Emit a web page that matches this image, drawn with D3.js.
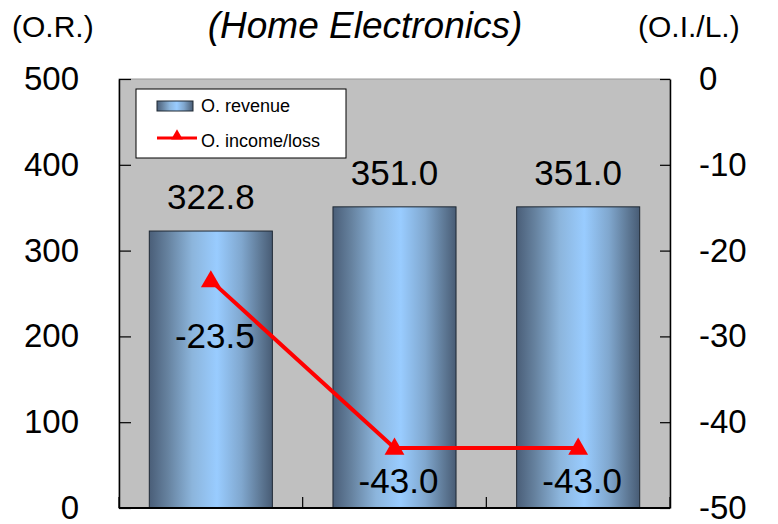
<!DOCTYPE html>
<html>
<head>
<meta charset="utf-8">
<script src="https://cdn.jsdelivr.net/npm/d3@7"></script>
<style>
  body { margin: 0; background: #fff; }
  svg text { font-family: "Liberation Sans", Arial, sans-serif; fill: #000; }
</style>
</head>
<body>
<div class="container"></div>
<script>
(function(){

var categories = ["A", "B", "C"];
var revenue = [322.8, 351.0, 351.0];
var incomeLoss = [-23.5, -43.0, -43.0];
var leftTicks = [0, 100, 200, 300, 400, 500];
var rightTicks = [-50, -40, -30, -20, -10, 0];

// label placement below the line points (px)
var lossLabelDy = [67, 45, 45];

var width = 778,
    height = 524,
    plotLeft = 119,
    plotRight = 670,
    plotTop = 79,
    plotBottom = 508;

var svg = d3.select(".container")
  .append("svg")
  .attr("width", width)
  .attr("height", height);

var defs = svg.append("defs");
var grad = defs.append("linearGradient")
  .attr("id", "cyl")
  .attr("x1", "0%").attr("x2", "100%")
  .attr("y1", "0%").attr("y2", "0%");
[["0%", "#4a5e78"], ["15%", "#66829f"], ["35%", "#8cb5dc"], ["55%", "#99ccff"],
 ["75%", "#80a7ce"], ["90%", "#5f7a97"], ["100%", "#485c75"]].forEach(function(s){
  grad.append("stop").attr("offset", s[0]).attr("stop-color", s[1]);
});

var x = d3.scaleBand()
  .domain(categories)
  .range([plotLeft, plotRight])
  .paddingInner(0.33)
  .paddingOuter(0.165);

var xBand = d3.scaleBand()
  .domain(categories)
  .range([plotLeft, plotRight]);

var yLeft = d3.scaleLinear().domain([0, 500]).range([plotBottom, plotTop]);
var yRight = d3.scaleLinear().domain([-50, 0]).range([plotBottom, plotTop]);

// plot background
svg.append("rect")
  .attr("x", plotLeft)
  .attr("y", plotTop)
  .attr("width", plotRight - plotLeft)
  .attr("height", plotBottom - plotTop)
  .attr("fill", "#c0c0c0")
  .attr("stroke", "#9a9a9a")
  .attr("stroke-width", 1);

// bars
svg.selectAll(".bar")
  .data(revenue)
  .enter()
  .append("rect")
  .attr("class", "bar")
  .attr("x", function(d, i){ return x(categories[i]); })
  .attr("y", function(d){ return yLeft(d); })
  .attr("width", x.bandwidth())
  .attr("height", function(d){ return plotBottom - yLeft(d); })
  .attr("fill", "url(#cyl)")
  .attr("stroke", "#1e2833")
  .attr("stroke-width", 1);

svg.selectAll(".barLabel")
  .data(revenue)
  .enter()
  .append("text")
  .attr("class", "barLabel")
  .attr("x", function(d, i){ return x(categories[i]) + x.bandwidth() / 2; })
  .attr("y", function(d){ return yLeft(d) - 22; })
  .attr("text-anchor", "middle")
  .style("font-size", "35px")
  .text(function(d){ return d.toFixed(1); });

// axes
var plainFormat = function(d){ return String(d); };
var leftAxis = d3.axisLeft(yLeft).tickValues(leftTicks).tickFormat(plainFormat)
  .tickSizeInner(-12).tickSizeOuter(0).tickPadding(40);
var rightAxis = d3.axisRight(yRight).tickValues(rightTicks).tickFormat(plainFormat)
  .tickSizeInner(-10).tickSizeOuter(0).tickPadding(29);

var gl = svg.append("g").attr("transform", "translate(" + plotLeft + ",0)").call(leftAxis);
var gr = svg.append("g").attr("transform", "translate(" + plotRight + ",0)").call(rightAxis);
[gl, gr].forEach(function(g){
  g.select(".domain").attr("stroke", "#000").attr("stroke-width", 1.5);
  g.selectAll(".tick line").attr("stroke", "#000").attr("stroke-width", 1.2);
  g.selectAll(".tick text")
    .style("font-size", "33px")
    .style("font-family", "'Liberation Sans', Arial, sans-serif")
    .attr("fill", "#000");
});

// bottom axis with ticks between categories
var bottomTicks = categories.map(function(c){ return xBand(c); }).concat([plotRight]);
svg.append("line")
  .attr("x1", plotLeft).attr("x2", plotRight)
  .attr("y1", plotBottom).attr("y2", plotBottom)
  .attr("stroke", "#000").attr("stroke-width", 2);
svg.selectAll(".xtick")
  .data(bottomTicks)
  .enter()
  .append("line")
  .attr("x1", function(d){ return d; }).attr("x2", function(d){ return d; })
  .attr("y1", plotBottom).attr("y2", plotBottom - 11)
  .attr("stroke", "#000").attr("stroke-width", 1.2);

// income/loss line
var line = d3.line()
  .x(function(d, i){ return x(categories[i]) + x.bandwidth() / 2; })
  .y(function(d){ return yRight(d); });

svg.append("path")
  .datum(incomeLoss)
  .attr("d", line)
  .attr("fill", "none")
  .attr("stroke", "#ff0000")
  .attr("stroke-width", 4);

svg.selectAll(".marker")
  .data(incomeLoss)
  .enter()
  .append("path")
  .attr("d", d3.symbol().type(d3.symbolTriangle).size(170))
  .attr("transform", function(d, i){
    return "translate(" + (x(categories[i]) + x.bandwidth() / 2) + "," + (yRight(d) + 1) + ")";
  })
  .attr("fill", "#ff0000");

svg.selectAll(".lossLabel")
  .data(incomeLoss)
  .enter()
  .append("text")
  .attr("x", function(d, i){ return x(categories[i]) + x.bandwidth() / 2 + 4; })
  .attr("y", function(d, i){ return yRight(d) + lossLabelDy[i]; })
  .attr("text-anchor", "middle")
  .style("font-size", "35px")
  .text(function(d){ return d.toFixed(1); });

// titles
svg.append("text")
  .attr("x", 12).attr("y", 37)
  .style("font-size", "30px")
  .text("(O.R.)");

svg.append("text")
  .attr("x", 365).attr("y", 38)
  .attr("text-anchor", "middle")
  .style("font-size", "37px")
  .style("font-style", "italic")
  .text("(Home Electronics)");

svg.append("text")
  .attr("x", 638).attr("y", 37)
  .style("font-size", "30px")
  .text("(O.I./L.)");

// legend
var legend = svg.append("g");
legend.append("rect")
  .attr("x", 136).attr("y", 89)
  .attr("width", 210).attr("height", 69)
  .attr("fill", "#fff")
  .attr("stroke", "#000")
  .attr("stroke-width", 1);
legend.append("rect")
  .attr("x", 157).attr("y", 101)
  .attr("width", 36).attr("height", 10)
  .attr("fill", "url(#cyl)")
  .attr("stroke", "#1e2833");
legend.append("text")
  .attr("x", 201).attr("y", 112)
  .style("font-size", "18px")
  .text("O. revenue");
legend.append("line")
  .attr("x1", 157).attr("x2", 197)
  .attr("y1", 138).attr("y2", 138)
  .attr("stroke", "#ff0000").attr("stroke-width", 3);
legend.append("path")
  .attr("d", d3.symbol().type(d3.symbolTriangle).size(60))
  .attr("transform", "translate(177,136)")
  .attr("fill", "#ff0000");
legend.append("text")
  .attr("x", 201).attr("y", 147)
  .style("font-size", "18px")
  .text("O. income/loss");

})();
</script>
</body>
</html>
